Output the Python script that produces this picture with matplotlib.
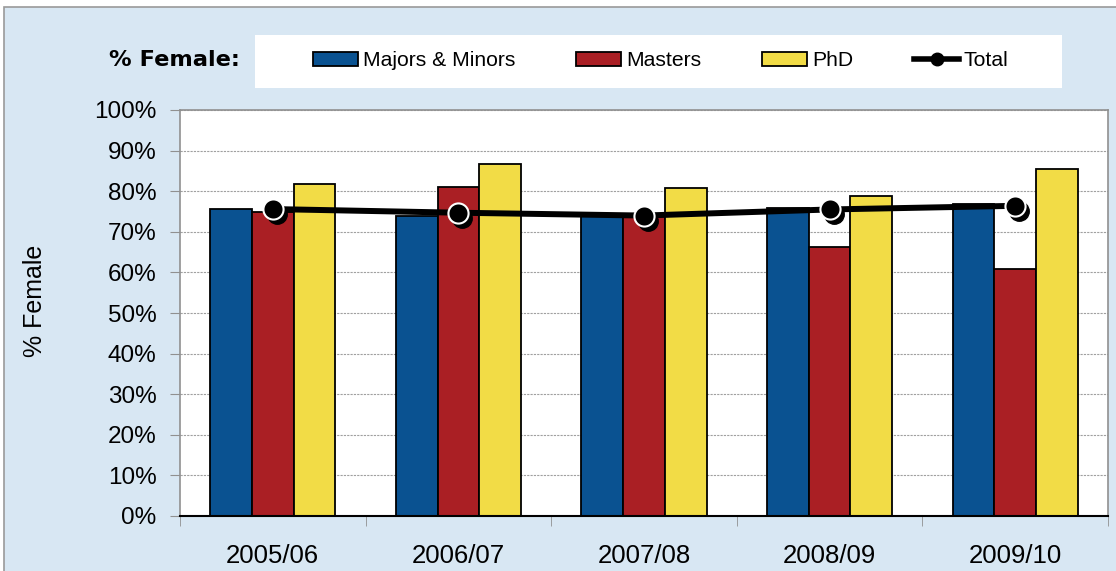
import matplotlib.pyplot as plt
from matplotlib.patches import Rectangle
from matplotlib.lines import Line2D
import matplotlib.transforms as mtransforms

plt.rcParams['font.family'] = ['Liberation Sans', 'DejaVu Sans']

# data (percent female)
years = ['2005/06', '2006/07', '2007/08', '2008/09', '2009/10']
majors = [75.6, 74.0, 74.1, 75.9, 76.8]
masters = [74.9, 81.0, 74.5, 66.2, 60.8]
phd = [81.7, 86.7, 80.7, 78.7, 85.5]
total = [75.6, 74.7, 74.0, 75.5, 76.4]

c_blue = '#0A5291'
c_red = '#AA1F24'
c_yellow = '#F2DC46'
bg = '#D8E7F3'

W, H = 1116, 571
fig = plt.figure(figsize=(W / 100, H / 100), dpi=100, facecolor='white')

# light blue panel behind everything
fig.patches.append(Rectangle((4 / W, -0.05), 1.1, 1 - 7 / H + 0.05,
                             transform=fig.transFigure, facecolor=bg,
                             edgecolor='#9a9a9a', lw=1.2, zorder=-10))

# legend box
fig.patches.append(Rectangle((255 / W, 1 - 88 / H), (1062 - 255) / W, 53 / H,
                             transform=fig.transFigure, facecolor='white',
                             edgecolor='none', zorder=-5))

ax = fig.add_axes([180 / W, 1 - 516 / H, (1108 - 180) / W, (516 - 110) / H])
ax.set_zorder(1)
ax.set_facecolor('white')

x = list(range(len(years)))
bw = 0.225
ax.bar([i - bw for i in x], majors, bw, color=c_blue, edgecolor='black', lw=1.3, zorder=3)
ax.bar(x, masters, bw, color=c_red, edgecolor='black', lw=1.3, zorder=3)
ax.bar([i + bw for i in x], phd, bw, color=c_yellow, edgecolor='black', lw=1.3, zorder=3)

# total line with shadowed markers
ax.plot(x, total, color='black', lw=4.3, zorder=4, solid_capstyle='butt')
shadow = mtransforms.offset_copy(ax.transData, fig=fig, x=4, y=-5, units='dots')
ax.plot(x, total, 'o', color='black', ms=14, mec='black', transform=shadow, zorder=5)
ax.plot(x, total, 'o', color='black', ms=14.5, mec='white', mew=1.5, zorder=6)

ax.set_xlim(-0.5, 4.5)
ax.set_ylim(0, 100)
ax.set_yticks(range(0, 101, 10))
ax.set_yticklabels([f'{v}%' for v in range(0, 101, 10)], fontsize=17.5)
ax.set_xticks(x)
ax.set_xticklabels(years, fontsize=18.5)
ax.set_xticks([i - 0.5 for i in range(6)], minor=True)
ax.tick_params(axis='x', which='major', length=0, pad=20)
ax.tick_params(axis='x', which='minor', length=7, color='#909090', direction='out')
ax.tick_params(axis='y', length=7, color='#909090', pad=10)

ax.grid(axis='y', color='#a0a0a0', lw=0.8, ls=(0, (2, 1)), zorder=1)
for s in ['left', 'top', 'right']:
    ax.spines[s].set_color('#909090')
    ax.spines[s].set_linewidth(1.2)
ax.spines['bottom'].set_color('black')
ax.spines['bottom'].set_linewidth(1.5)
ax.spines['bottom'].set_zorder(7)

fig.text(35 / W, 1 - 301 / H, '% Female', rotation=90, ha='center', va='center', fontsize=18)
fig.text(240 / W, 1 - 66 / H, '% Female:', ha='right', va='baseline',
         fontsize=16.2, fontweight='bold', family='DejaVu Sans')

handles = [
    Rectangle((0, 0), 1, 1, facecolor=c_blue, edgecolor='black', lw=1.3),
    Rectangle((0, 0), 1, 1, facecolor=c_red, edgecolor='black', lw=1.3),
    Rectangle((0, 0), 1, 1, facecolor=c_yellow, edgecolor='black', lw=1.3),
    Line2D([], [], color='black', lw=4, marker='o', ms=9),
]
fig.legend(handles, ['Majors & Minors', 'Masters', 'PhD', 'Total'],
           loc='center', bbox_to_anchor=(661 / W, 1 - 61 / H), ncol=4,
           frameon=False, fontsize=15.2, handlelength=2.1, handleheight=0.67,
           handletextpad=0.25, columnspacing=2.9)

fig.savefig('out.png', dpi=100, facecolor='white')
